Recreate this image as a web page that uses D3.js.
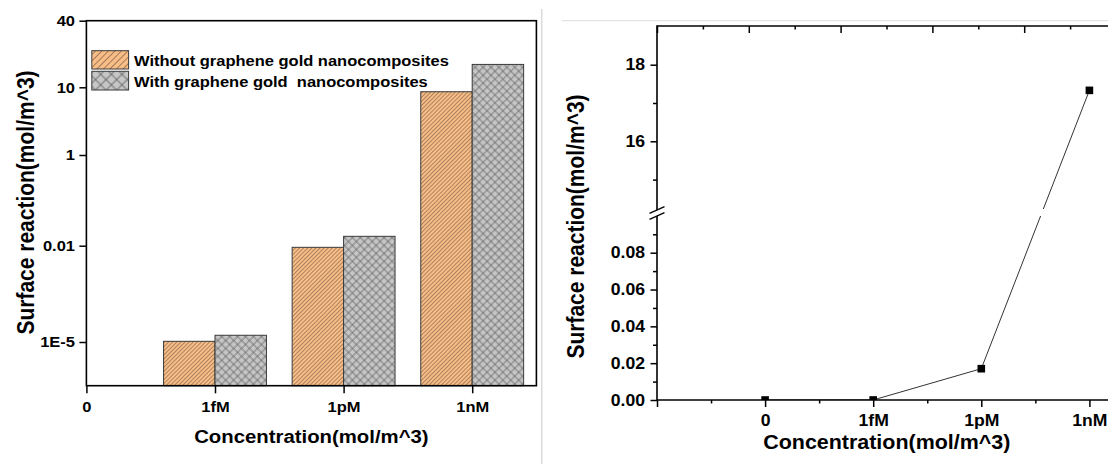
<!DOCTYPE html>
<html><head><meta charset="utf-8">
<script src="https://cdn.jsdelivr.net/npm/d3@7"></script>
<style>
html,body{margin:0;padding:0;background:#fff;}
svg{display:block;}
</style></head><body>
<svg id="c" width="1108" height="464"></svg>
<script>
// ---------------- data ----------------
const categories = ["0", "1fM", "1pM", "1nM"];
const seriesNames = ["Without graphene gold nanocomposites", "With graphene gold  nanocomposites"];
const withoutGraphene = [null, 1.05e-5, 0.0089, 8.6];
const withGraphene = [null, 1.62e-5, 0.0161, 16.1];
const leftTickValues = [1e-5, 0.01, 1, 10, 40];
const leftTickLabels = ["1E-5", "0.01", "1", "10", "40"];

const lineValues = [0, 0.000016, 0.017, 17.33];
const upperMajor = [16, 18];
const upperMinor = [15, 17];
const lowerMajor = [0, 0.02, 0.04, 0.06, 0.08];
const lowerMinor = [0.01, 0.03, 0.05, 0.07, 0.09];

// ---------------- setup ----------------
const FONT = '"Liberation Sans", Arial, Helvetica, sans-serif';
const SX = 1.1; // horizontal stretch of the glyphs in the reference
const svg = d3.select("#c");
const defs = svg.append("defs");

function stretch(sel) {
  sel.attr("transform", function () {
    const x = +d3.select(this).attr("x") || 0;
    return `translate(${x},0) scale(${SX},1) translate(${-x},0)`;
  });
}
function styleAxis(g, size) {
  g.attr("font-family", FONT).attr("font-size", size).attr("font-weight", "bold").attr("color", "#000");
  g.selectAll(".tick line").attr("stroke-width", 1.5);
  g.selectAll(".tick text").call(stretch);
}
function hatch(id, size, bg, stroke, sw, cross) {
  const p = defs.append("pattern").attr("id", id).attr("patternUnits", "userSpaceOnUse")
    .attr("width", size).attr("height", size).attr("patternTransform", "rotate(45)");
  p.append("rect").attr("width", size).attr("height", size).attr("fill", bg);
  p.append("line").attr("x1", size / 2).attr("y1", 0).attr("x2", size / 2).attr("y2", size)
    .attr("stroke", stroke).attr("stroke-width", sw);
  if (cross) p.append("line").attr("x1", 0).attr("y1", size / 2).attr("x2", size).attr("y2", size / 2)
    .attr("stroke", stroke).attr("stroke-width", sw);
}
hatch("orangeBar", 2.9, "#f9bd86", "#8a6b52", 0.7, false);
hatch("grayBar", 5.6, "#c6c6c6", "#5c5c5c", 0.7, true);
hatch("orangeLeg", 4.6, "#f9bd86", "#8a6b52", 0.8, false);
hatch("grayLeg", 7.5, "#c6c6c6", "#5c5c5c", 0.8, true);

// separators
svg.append("line").attr("x1", 541.7).attr("x2", 541.7).attr("y1", 9).attr("y2", 464)
  .attr("stroke", "#dadada").attr("stroke-width", 1.5);
svg.append("line").attr("x1", 561.7).attr("x2", 1108).attr("y1", 20.7).attr("y2", 20.7)
  .attr("stroke", "#e2e2e2").attr("stroke-width", 1.2);

// ---------------- left chart ----------------
const L = { x0: 86.4, x1: 536.4, y0: 20.7, y1: 385.7, step: 128.6 };
const xL = d3.scalePoint().domain(categories).range([L.x0, L.x0 + 3 * L.step]);
const yL = d3.scaleLog().domain([4.4e-7, 1e-5, 0.01, 1, 10, 40])
  .range([L.y1, 342, 245.7, 155, 87.3, L.y0]);
const bw = xL.step() * 0.4;

const seriesList = [
  { name: seriesNames[0], values: withoutGraphene, fill: "url(#orangeBar)", leg: "url(#orangeLeg)", off: -1 },
  { name: seriesNames[1], values: withGraphene, fill: "url(#grayBar)", leg: "url(#grayLeg)", off: 0 }
];
seriesList.forEach(s => {
  svg.append("g").selectAll("rect")
    .data(categories.map((c, i) => ({ c, v: s.values[i] })).filter(d => d.v != null))
    .join("rect")
    .attr("x", d => xL(d.c) + s.off * bw)
    .attr("y", d => yL(d.v))
    .attr("width", bw)
    .attr("height", d => L.y1 - yL(d.v))
    .attr("fill", s.fill)
    .attr("stroke", "#3a3a3a").attr("stroke-width", 1);
});

// frame
svg.append("rect").attr("x", L.x0).attr("y", L.y0).attr("width", L.x1 - L.x0).attr("height", L.y1 - L.y0)
  .attr("fill", "none").attr("stroke", "#000").attr("stroke-width", 1.6);

const gLy = svg.append("g").attr("transform", `translate(${L.x0},0)`)
  .call(d3.axisLeft(yL).tickValues(leftTickValues).tickFormat((d, i) => leftTickLabels[i]).tickSize(7).tickPadding(4.4));
gLy.select(".domain").remove();
styleAxis(gLy, 15);

const gLx = svg.append("g").attr("transform", `translate(0,${L.y1})`)
  .call(d3.axisBottom(xL).tickSize(7.6).tickPadding(8.4));
gLx.select(".domain").remove();
styleAxis(gLx, 15);

// legend
const legRows = [{ y: 50.7, h: 18.3, base: 65.7 }, { y: 71.3, h: 18.7, base: 87.3 }];
seriesList.forEach((s, i) => {
  svg.append("rect").attr("x", 91.8).attr("y", legRows[i].y).attr("width", 36.8).attr("height", legRows[i].h)
    .attr("fill", s.leg).attr("stroke", "#3a3a3a").attr("stroke-width", 1);
  svg.append("text").attr("x", 134).attr("y", legRows[i].base)
    .attr("font-family", FONT).attr("font-weight", "bold").attr("font-size", 15)
    .style("white-space", "pre").text(s.name).call(stretch);
});

// titles
svg.append("text").attr("x", 311.4).attr("y", 443).attr("text-anchor", "middle")
  .attr("font-family", FONT).attr("font-weight", "bold").attr("font-size", 18.5)
  .text("Concentration(mol/m^3)").call(stretch);
svg.append("text").attr("text-anchor", "middle")
  .attr("transform", `translate(34,202.5) scale(${SX},1) rotate(-90)`)
  .attr("font-family", FONT).attr("font-weight", "bold").attr("font-size", 21)
  .text("Surface reaction(mol/m^3)");

// ---------------- right chart ----------------
const R = { x0: 657, xEnd: 1108, y0: 26, y1: 400, upBottom: 209, lowTop: 216, step: 108.1 };
const xR = d3.scaleLinear().domain([-1, 3.5]).range([R.x0, R.x0 + 4.5 * R.step]);
const xTop = d3.scaleLinear().domain([0, 5]).range([R.x0, R.x0 + 5 * 91.8]);
const yU = d3.scaleLinear().domain([16, 18]).range([141.3, 64.7]);
const yLo = d3.scaleLinear().domain([0, 0.08]).range([R.y1, 252.7]);
const yPix = v => (v > 0.1 ? yU(v) : yLo(v));

defs.append("clipPath").attr("id", "clipUp").append("rect")
  .attr("x", R.x0).attr("y", R.y0).attr("width", R.xEnd - R.x0).attr("height", R.upBottom - R.y0);
defs.append("clipPath").attr("id", "clipLow").append("rect")
  .attr("x", R.x0).attr("y", R.lowTop).attr("width", R.xEnd - R.x0).attr("height", R.y1 - R.lowTop);

const pts = lineValues.map((v, i) => ({ i, v }));
const lineGen = d3.line().x(d => xR(d.i)).y(d => yPix(d.v));
["clipUp", "clipLow"].forEach(cid => {
  const g = svg.append("g").attr("clip-path", `url(#${cid})`);
  g.append("path").attr("d", lineGen(pts)).attr("fill", "none").attr("stroke", "#333").attr("stroke-width", 1);
  g.selectAll("rect").data(pts).join("rect")
    .attr("x", d => xR(d.i) - 3.8).attr("y", d => yPix(d.v) - 3.8)
    .attr("width", 7.6).attr("height", 7.6).attr("fill", "#000");
});

// axis lines
const axLine = (x1, y1, x2, y2) => svg.append("line").attr("x1", x1).attr("y1", y1).attr("x2", x2).attr("y2", y2)
  .attr("stroke", "#000").attr("stroke-width", 1.6);
axLine(R.x0, R.y0 - 0.8, R.x0, R.y1 + 0.8);
axLine(R.x0, R.y1, R.xEnd, R.y1);
axLine(R.x0, R.y0, R.xEnd, R.y0);

// y axes
function rAxis(scale, vals, size, fmt) {
  const g = svg.append("g").attr("transform", `translate(${R.x0},0)`)
    .call(d3.axisLeft(scale).tickValues(vals).tickSize(size).tickPadding(5.5).tickFormat(fmt));
  g.select(".domain").remove();
  styleAxis(g, 16);
}
rAxis(yU, upperMajor, 6.5, d3.format("d"));
rAxis(yU, upperMinor, 4, () => "");
rAxis(yLo, lowerMajor, 6.5, d3.format(".2f"));
rAxis(yLo, lowerMinor, 4, () => "");

// bottom axis
const gRb = svg.append("g").attr("transform", `translate(0,${R.y1})`)
  .call(d3.axisBottom(xR).tickValues([-1, 0, 1, 2, 3]).tickSize(7).tickPadding(8)
    .tickFormat(i => (i < 0 ? "" : categories[i])));
gRb.select(".domain").remove();
styleAxis(gRb, 16);
const gRbm = svg.append("g").attr("transform", `translate(0,${R.y1})`)
  .call(d3.axisBottom(xR).tickValues([-0.5, 0.5, 1.5, 2.5]).tickSize(3.5).tickFormat(() => ""));
gRbm.select(".domain").remove();
styleAxis(gRbm, 16);

// top axis (inward ticks)
const gRt = svg.append("g").attr("transform", `translate(0,${R.y0})`)
  .call(d3.axisTop(xTop).tickValues([0, 1, 2, 3, 4, 5]).tickSize(-7).tickFormat(() => ""));
gRt.select(".domain").remove();
styleAxis(gRt, 16);
const gRtm = svg.append("g").attr("transform", `translate(0,${R.y0})`)
  .call(d3.axisTop(xTop).tickValues([0.5, 1.5, 2.5, 3.5, 4.5]).tickSize(-3.5).tickFormat(() => ""));
gRtm.select(".domain").remove();
styleAxis(gRtm, 16);

// axis break mark
const cy = (R.upBottom + R.lowTop) / 2 + 0.5;
svg.append("polygon")
  .attr("points", [[R.x0 - 4, cy - 1.5], [R.x0 + 4, cy - 4.8], [R.x0 + 4, cy + 1.5], [R.x0 - 4, cy + 4.8]].map(p => p.join(",")).join(" "))
  .attr("fill", "#fff");
[-3, 3].forEach(o => {
  svg.append("line").attr("x1", R.x0 - 7.5).attr("y1", cy + o + 3.3).attr("x2", R.x0 + 7.5).attr("y2", cy + o - 3.3)
    .attr("stroke", "#000").attr("stroke-width", 1.3);
});

// titles
svg.append("text").attr("x", 886.8).attr("y", 449.5).attr("text-anchor", "middle")
  .attr("font-family", FONT).attr("font-weight", "bold").attr("font-size", 19.5)
  .text("Concentration(mol/m^3)").call(stretch);
svg.append("text").attr("text-anchor", "middle")
  .attr("transform", `translate(583.5,226.5) scale(${SX},1) rotate(-90)`)
  .attr("font-family", FONT).attr("font-weight", "bold").attr("font-size", 21)
  .text("Surface reaction(mol/m^3)");
</script>
</body></html>
